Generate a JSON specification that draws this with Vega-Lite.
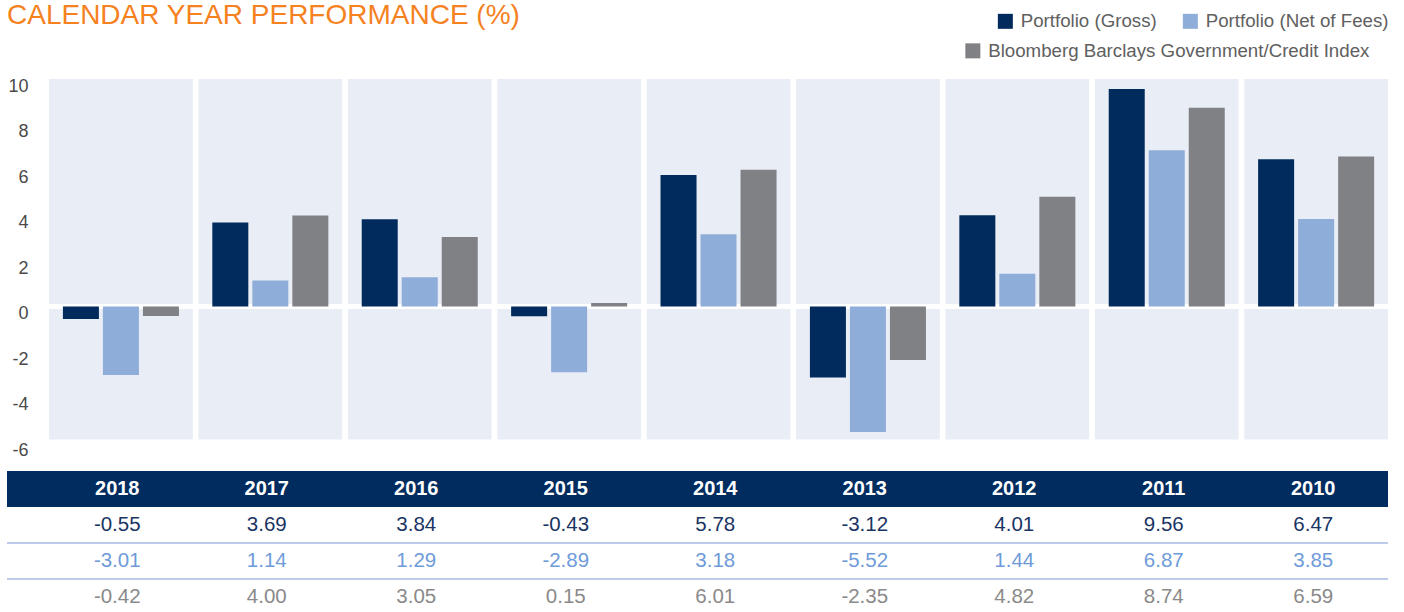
{
  "$schema": "https://vega.github.io/schema/vega-lite/v6.json",
  "padding": {"left": 4, "top": 2, "right": 0, "bottom": 0},
  "background": "white",
  "config": {"view": {"stroke": null}, "font": "Liberation Sans", "locale": {"number": {"decimal": ".", "thousands": ",", "grouping": [3], "currency": ["$", ""], "minus": "-"}}},
  "title": {"text": "CALENDAR YEAR PERFORMANCE (%)", "anchor": "start", "frame": "group", "font": "Liberation Sans", "fontSize": 28, "fontWeight": "normal", "color": "#f5821f", "offset": -18.5},
  "datasets": {
    "perf": [
      {"year": "2018", "series": "Portfolio (Gross)", "value": -0.55},
      {"year": "2018", "series": "Portfolio (Net of Fees)", "value": -3.01},
      {"year": "2018", "series": "Bloomberg Barclays Government/Credit Index", "value": -0.42},
      {"year": "2017", "series": "Portfolio (Gross)", "value": 3.69},
      {"year": "2017", "series": "Portfolio (Net of Fees)", "value": 1.14},
      {"year": "2017", "series": "Bloomberg Barclays Government/Credit Index", "value": 4.00},
      {"year": "2016", "series": "Portfolio (Gross)", "value": 3.84},
      {"year": "2016", "series": "Portfolio (Net of Fees)", "value": 1.29},
      {"year": "2016", "series": "Bloomberg Barclays Government/Credit Index", "value": 3.05},
      {"year": "2015", "series": "Portfolio (Gross)", "value": -0.43},
      {"year": "2015", "series": "Portfolio (Net of Fees)", "value": -2.89},
      {"year": "2015", "series": "Bloomberg Barclays Government/Credit Index", "value": 0.15},
      {"year": "2014", "series": "Portfolio (Gross)", "value": 5.78},
      {"year": "2014", "series": "Portfolio (Net of Fees)", "value": 3.18},
      {"year": "2014", "series": "Bloomberg Barclays Government/Credit Index", "value": 6.01},
      {"year": "2013", "series": "Portfolio (Gross)", "value": -3.12},
      {"year": "2013", "series": "Portfolio (Net of Fees)", "value": -5.52},
      {"year": "2013", "series": "Bloomberg Barclays Government/Credit Index", "value": -2.35},
      {"year": "2012", "series": "Portfolio (Gross)", "value": 4.01},
      {"year": "2012", "series": "Portfolio (Net of Fees)", "value": 1.44},
      {"year": "2012", "series": "Bloomberg Barclays Government/Credit Index", "value": 4.82},
      {"year": "2011", "series": "Portfolio (Gross)", "value": 9.56},
      {"year": "2011", "series": "Portfolio (Net of Fees)", "value": 6.87},
      {"year": "2011", "series": "Bloomberg Barclays Government/Credit Index", "value": 8.74},
      {"year": "2010", "series": "Portfolio (Gross)", "value": 6.47},
      {"year": "2010", "series": "Portfolio (Net of Fees)", "value": 3.85},
      {"year": "2010", "series": "Bloomberg Barclays Government/Credit Index", "value": 6.59}
    ]
  },
  "spacing": 28,
  "bounds": "flush",
  "resolve": {"scale": {"x": "independent", "y": "independent", "color": "independent"}},
  "vconcat": [
    {
      "width": 1381,
      "height": 364,
      "data": {"name": "perf"},
      "layer": [
        {
          "transform": [{"filter": "datum.series === 'Portfolio (Gross)'"}],
          "mark": {"type": "rect", "color": "#e9edf6"},
          "encoding": {
            "x": {"field": "year", "type": "nominal", "axis": null, "scale": {"type": "band", "domain": ["2018","2017","2016","2015","2014","2013","2012","2011","2010"], "paddingInner": 0.038, "paddingOuter": 0.1408, "align": 1}},
            "y": {"datum": 10, "type": "quantitative", "scale": {"domain": [-6, 10], "nice": false, "zero": false}, "axis": {"values": [-6,-4,-2,0,2,4,6,8,10], "title": null, "grid": false, "domain": false, "ticks": false, "tickSize": 0, "labelPadding": -21, "labelAlign": "right", "labelBaseline": "middle", "labelOffset": 7, "labelFontSize": 18, "labelColor": "#4a4a4a", "labelFont": "Liberation Sans", "labelFlush": false, "labelOverlap": false, "zindex": 1}},
            "y2": {"datum": -5.85}
          }
        },
        {
          "transform": [{"filter": "datum.series === 'Portfolio (Gross)' && datum.year === '2018'"}],
          "mark": {"type": "rule", "color": "white", "strokeWidth": 5},
          "encoding": {
            "y": {"datum": 0, "type": "quantitative", "scale": {"domain": [-6, 10], "nice": false, "zero": false}, "axis": {"values": [-6,-4,-2,0,2,4,6,8,10], "title": null, "grid": false, "domain": false, "ticks": false, "tickSize": 0, "labelPadding": -21, "labelAlign": "right", "labelBaseline": "middle", "labelOffset": 7, "labelFontSize": 18, "labelColor": "#4a4a4a", "labelFont": "Liberation Sans", "labelFlush": false, "labelOverlap": false, "zindex": 1}}
          }
        },
        {
          "transform": [{"filter": "datum.series !== 'Bloomberg Barclays Government/Credit Index'"}],
          "mark": {"type": "bar"},
          "encoding": {
            "x": {"field": "year", "type": "nominal", "axis": null, "scale": {"type": "band", "domain": ["2018","2017","2016","2015","2014","2013","2012","2011","2010"], "paddingInner": 0.038, "paddingOuter": 0.1408, "align": 1}},
            "xOffset": {"field": "series", "type": "nominal", "scale": {"domain": ["Portfolio (Gross)", "Portfolio (Net of Fees)", "Bloomberg Barclays Government/Credit Index"], "paddingInner": 0.1, "paddingOuter": 0.346}},
            "y": {"field": "value", "type": "quantitative", "scale": {"domain": [-6, 10], "nice": false, "zero": false}, "axis": {"values": [-6,-4,-2,0,2,4,6,8,10], "title": null, "grid": false, "domain": false, "ticks": false, "tickSize": 0, "labelPadding": -21, "labelAlign": "right", "labelBaseline": "middle", "labelOffset": 7, "labelFontSize": 18, "labelColor": "#4a4a4a", "labelFont": "Liberation Sans", "labelFlush": false, "labelOverlap": false, "zindex": 1}},
            "color": {"field": "series", "type": "nominal", "scale": {"domain": ["Portfolio (Gross)", "Portfolio (Net of Fees)"], "range": ["#002b5c", "#8fadd9"]}, "legend": {"orient": "none", "legendX": 989, "legendY": -67.5, "direction": "horizontal", "title": null, "symbolType": "square", "symbolSize": 225, "symbolStrokeWidth": 0, "labelFontSize": 18.7, "labelFont": "Liberation Sans", "labelColor": "#606060", "labelOffset": 6, "columnPadding": 24, "labelLimit": 0, "padding": 0}}
          }
        },
        {
          "transform": [{"filter": "datum.series === 'Bloomberg Barclays Government/Credit Index'"}],
          "mark": {"type": "bar"},
          "encoding": {
            "x": {"field": "year", "type": "nominal", "axis": null, "scale": {"type": "band", "domain": ["2018","2017","2016","2015","2014","2013","2012","2011","2010"], "paddingInner": 0.038, "paddingOuter": 0.1408, "align": 1}},
            "xOffset": {"field": "series", "type": "nominal", "scale": {"domain": ["Portfolio (Gross)", "Portfolio (Net of Fees)", "Bloomberg Barclays Government/Credit Index"], "paddingInner": 0.1, "paddingOuter": 0.346}},
            "y": {"field": "value", "type": "quantitative", "scale": {"domain": [-6, 10], "nice": false, "zero": false}, "axis": {"values": [-6,-4,-2,0,2,4,6,8,10], "title": null, "grid": false, "domain": false, "ticks": false, "tickSize": 0, "labelPadding": -21, "labelAlign": "right", "labelBaseline": "middle", "labelOffset": 7, "labelFontSize": 18, "labelColor": "#4a4a4a", "labelFont": "Liberation Sans", "labelFlush": false, "labelOverlap": false, "zindex": 1}},
            "fill": {"field": "series", "type": "nominal", "scale": {"domain": ["Bloomberg Barclays Government/Credit Index"], "range": ["#808184"]}, "legend": {"orient": "none", "legendX": 956.5, "legendY": -37.5, "direction": "horizontal", "title": null, "symbolType": "square", "symbolSize": 225, "symbolStrokeWidth": 0, "labelFontSize": 18.7, "labelFont": "Liberation Sans", "labelColor": "#606060", "labelOffset": 6, "labelLimit": 0, "padding": 0}}
          }
        }
      ]
    },
    {
      "width": 1381,
      "height": 144,
      "data": {"name": "perf"},
      "layer": [
        {
          "transform": [{"filter": "datum.series === 'Portfolio (Gross)' && datum.year === '2018'"}],
          "mark": {"type": "rect", "color": "#002c5f"},
          "encoding": {
            "y": {"datum": "Year", "type": "nominal", "axis": null, "scale": {"type": "band", "domain": ["Year", "Portfolio (Gross)", "Portfolio (Net of Fees)", "Bloomberg Barclays Government/Credit Index"], "paddingInner": 0, "paddingOuter": 0}}
          }
        },
        {
          "transform": [{"filter": "datum.series === 'Portfolio (Gross)'"}],
          "mark": {"type": "text", "color": "white", "fontSize": 20, "fontWeight": "bold", "font": "Liberation Sans"},
          "encoding": {
            "x": {"field": "year", "type": "nominal", "axis": null, "scale": {"type": "band", "domain": ["2018","2017","2016","2015","2014","2013","2012","2011","2010"], "paddingInner": 0, "paddingOuter": 0.11875, "align": 1}},
            "y": {"datum": "Year", "type": "nominal", "axis": null, "scale": {"type": "band", "domain": ["Year", "Portfolio (Gross)", "Portfolio (Net of Fees)", "Bloomberg Barclays Government/Credit Index"], "paddingInner": 0, "paddingOuter": 0}},
            "text": {"field": "year", "type": "nominal"}
          }
        },
        {
          "mark": {"type": "text", "fontSize": 20.5, "font": "Liberation Sans"},
          "encoding": {
            "x": {"field": "year", "type": "nominal", "axis": null, "scale": {"type": "band", "domain": ["2018","2017","2016","2015","2014","2013","2012","2011","2010"], "paddingInner": 0, "paddingOuter": 0.11875, "align": 1}},
            "y": {"field": "series", "type": "nominal", "axis": null, "scale": {"type": "band", "domain": ["Year", "Portfolio (Gross)", "Portfolio (Net of Fees)", "Bloomberg Barclays Government/Credit Index"], "paddingInner": 0, "paddingOuter": 0}},
            "text": {"field": "value", "type": "quantitative", "format": ".2f"},
            "color": {"field": "series", "type": "nominal", "scale": {"domain": ["Portfolio (Gross)", "Portfolio (Net of Fees)", "Bloomberg Barclays Government/Credit Index"], "range": ["#1a3564", "#6f9bd9", "#8a8a8a"]}, "legend": null}
          }
        },
        {
          "transform": [{"filter": "datum.year === '2018' && datum.series !== 'Portfolio (Gross)'"}],
          "mark": {"type": "rule", "color": "#a7b9e0", "strokeWidth": 1.5},
          "encoding": {
            "y": {"field": "series", "type": "nominal", "axis": null, "bandPosition": 0, "scale": {"type": "band", "domain": ["Year", "Portfolio (Gross)", "Portfolio (Net of Fees)", "Bloomberg Barclays Government/Credit Index"], "paddingInner": 0, "paddingOuter": 0}}
          }
        }
      ]
    }
  ]
}
